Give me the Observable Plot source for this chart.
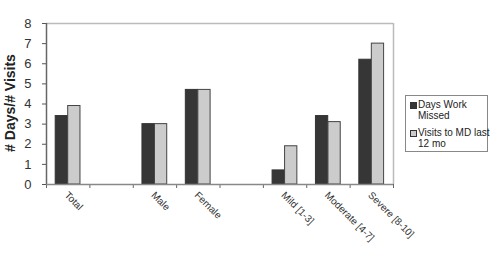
<!DOCTYPE html>
<html><head><meta charset="utf-8">
<script src="https://cdn.jsdelivr.net/npm/d3@7"></script>
<script src="https://cdn.jsdelivr.net/npm/@observablehq/plot@0.6"></script>
<style>
body{margin:0;background:#fff;font-family:Arial,"Liberation Sans",sans-serif;}
#wrap{position:relative;width:494px;height:257px;}
#legend{position:absolute;left:405px;top:95px;width:81px;height:55px;border:1px solid #888;background:#fff;font:10px Arial,"Liberation Sans",sans-serif;color:#222;}
.item{position:absolute;left:4px;line-height:11px;white-space:nowrap;}
.sw{position:absolute;left:0;top:3px;width:5px;height:5px;border:1px solid #333;}
.tx{margin-left:8px;}
#ylabel{position:absolute;left:10px;top:103px;transform:translate(-50%,-50%) rotate(-90deg);font:bold 14px Arial,"Liberation Sans",sans-serif;color:#222;white-space:nowrap;}
</style></head>
<body><div id="wrap"><div id="legend"></div><div id="ylabel"># Days/# Visits</div></div>
<script>
const categories = ["Total", "", "Male", "Female", "", "Mild [1-3]", "Moderate [4-7]", "Severe [8-10]"];
const seriesNames = ["Days Work Missed", "Visits to MD last 12 mo"];
const daysMissed = [3.4, null, 3.0, 4.7, null, 0.7, 3.4, 6.2];
const visitsMD   = [3.9, null, 3.0, 4.7, null, 1.9, 3.1, 7.0];
const yTicks = [0,1,2,3,4,5,6,7,8];
const colors = ["#363636", "#cccccc"];

const rows = categories.map((c, i) => ({c, i, a: daysMissed[i], b: visitsMD[i]}));
const barsA = rows.filter(d => d.a != null);
const barsB = rows.filter(d => d.b != null);
const labels = rows.filter(d => d.c !== "");

const chart = Plot.plot({
  width: 494, height: 257,
  marginLeft: 46, marginRight: 101, marginTop: 23, marginBottom: 73,
  style: {fontFamily: "Arial, 'Liberation Sans', sans-serif", background: "#fff"},
  x: {type: "linear", domain: [0, categories.length]},
  y: {type: "linear", domain: [0, 8]},
  marks: [
    Plot.ruleY([8], {stroke: "#bbb", strokeWidth: 1.5}),
    Plot.ruleX([categories.length], {stroke: "#bbb", strokeWidth: 1.5}),
    Plot.rectY(barsA, {x1: d => d.i, x2: d => d.i + 1, y: "a", fill: colors[0], stroke: "#333", strokeWidth: 1, insetLeft: 9.2, insetRight: 21.9}),
    Plot.rectY(barsB, {x1: d => d.i, x2: d => d.i + 1, y: "b", fill: colors[1], stroke: "#444", strokeWidth: 1, insetLeft: 21.7, insetRight: 9.4}),
    Plot.axisY(yTicks, {tickSize: 4, tickPadding: 11, fontSize: 13, color: "#333", stroke: "#555", label: null}),
    Plot.axisX(d3.range(categories.length + 1), {tickSize: 4, tickFormat: () => "", stroke: "#666", label: null}),
    Plot.ruleX([0], {stroke: "#666", strokeWidth: 1.5}),
    Plot.ruleY([0], {stroke: "#888", strokeWidth: 1.5}),
    Plot.text(labels, {x: d => d.i + 0.5, y: 0, text: "c", rotate: 45, textAnchor: "start", lineAnchor: "middle", fontSize: 10, fill: "#333", dy: 9, dx: -2})
  ]
});
document.getElementById("wrap").prepend(chart);

const legend = document.getElementById("legend");
const items = [["Days Work", "Missed"], ["Visits to MD last", "12 mo"]];
items.forEach((lines, k) => {
  const it = document.createElement("div");
  it.className = "item";
  it.style.top = (k === 0 ? 3 : 31) + "px";
  it.innerHTML = `<div class="sw" style="background:${colors[k]}"></div><div class="tx">${lines.join("<br>")}</div>`;
  legend.appendChild(it);
});
</script>
</body></html>
